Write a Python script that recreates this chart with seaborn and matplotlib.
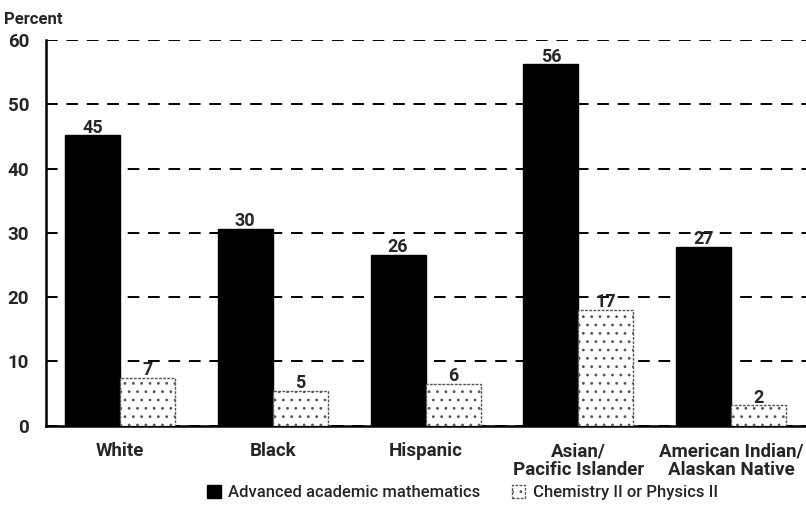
import pandas as pd
import matplotlib
matplotlib.use("Agg")
import matplotlib.pyplot as plt
import seaborn as sns
from matplotlib.patches import Patch

groups = ["White", "Black", "Hispanic", "Asian/\nPacific Islander", "American Indian/\nAlaskan Native"]
series = ["Advanced academic mathematics", "Chemistry II or Physics II"]
math_pct = [45.2, 30.6, 26.6, 56.2, 27.8]
sci_pct = [7.5, 5.4, 6.5, 18.0, 3.2]
math_labels = ["45", "30", "26", "56", "27"]
sci_labels = ["7", "5", "6", "17", "2"]
yticks = [0, 10, 20, 30, 40, 50, 60]

df = pd.DataFrame({
    "group": groups * 2,
    "course": [series[0]] * len(groups) + [series[1]] * len(groups),
    "pct": math_pct + sci_pct,
})

sns.set_style("white")
plt.rcParams["font.family"] = ["Roboto", "DejaVu Sans"]
plt.rcParams["hatch.linewidth"] = 0.8

fig = plt.figure(figsize=(8.06, 5.13), dpi=100)
ax = fig.add_axes([0.057, 0.170, 0.943, 0.752])

sns.barplot(data=df, x="group", y="pct", hue="course", hue_order=series,
            palette=["black", "white"], width=0.72, gap=0, saturation=1,
            legend=False, ax=ax, zorder=3)

# stippled look for the second series
for bar in ax.containers[1]:
    bar.set_hatch("..")
    bar.set_edgecolor("#555555")
    bar.set_linestyle((0, (2, 1)))
    bar.set_linewidth(1.0)
for bar in ax.containers[0]:
    bar.set_edgecolor("black")

ax.bar_label(ax.containers[0], labels=math_labels, padding=-1, fontsize=13, fontweight="bold")
ax.bar_label(ax.containers[1], labels=sci_labels, padding=-1, fontsize=13, fontweight="bold")

ax.set_ylim(0, 60)
ax.set_xlim(-0.484, 4.49)
ax.set_yticks(yticks)
ax.set_yticklabels([str(t) for t in yticks], fontsize=13.5, fontweight="bold")
ax.tick_params(axis="x", length=0, pad=12, labelsize=13.5)
ax.tick_params(axis="y", length=0, pad=12)
for lbl in ax.get_xticklabels():
    lbl.set_fontweight("bold")
    lbl.set_linespacing(1.05)
ax.set_xlabel("")
ax.set_ylabel("")

ax.yaxis.grid(True, color="black", linestyle=(0, (6, 4.5)), linewidth=1.4, zorder=0)
ax.set_axisbelow(True)
for side in ["top", "right"]:
    ax.spines[side].set_visible(False)
ax.spines["left"].set_linewidth(1.8)
ax.spines["bottom"].set_linewidth(1.8)
ax.spines["left"].set_color("black")
ax.spines["bottom"].set_color("black")

fig.text(0.005, 0.962, "Percent", fontsize=12, fontweight="bold", ha="left", va="center")

handles = [
    Patch(facecolor="black", edgecolor="black", label=series[0]),
    Patch(facecolor="white", edgecolor="#555555", hatch="..", linestyle=(0, (2, 1)), label=series[1]),
]
leg = fig.legend(handles=handles, loc="center", bbox_to_anchor=(0.574, 0.04), ncol=2,
                 frameon=False, fontsize=12, handlelength=0.8, handleheight=0.8,
                 handletextpad=0.45, columnspacing=1.9)
for t in leg.get_texts():
    t.set_fontweight("medium")

fig.savefig("out.png", dpi=100)
